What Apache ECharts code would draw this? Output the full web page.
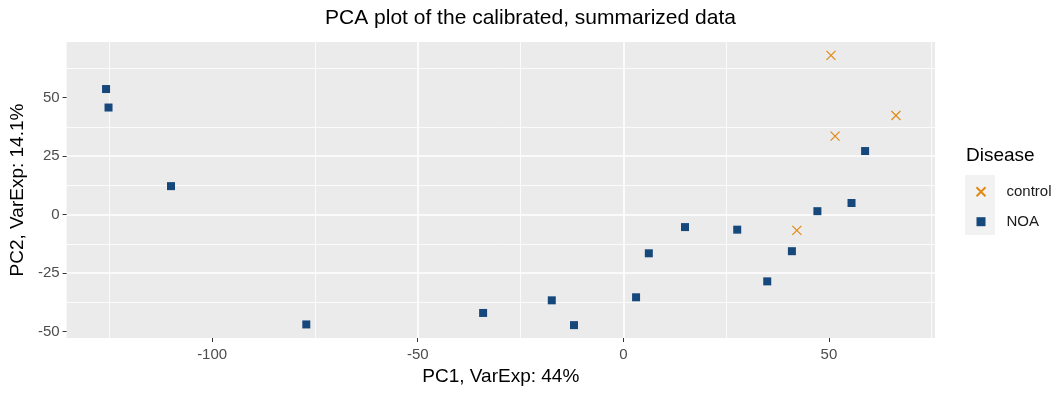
<!DOCTYPE html>
<html>
<head>
<meta charset="utf-8">
<script src="https://cdn.jsdelivr.net/npm/echarts@6/dist/echarts.min.js"></script>
<style>
html,body{margin:0;padding:0;background:#fff;}
#chart{width:1061px;height:394px;}
</style>
</head>
<body>
<div id="chart"></div>
<script>
// ---- data ----
const seriesNames = ['control', 'NOA'];
const controlX = [50.5, 51.5, 66.3, 42.2];
const controlY = [68.1, 33.6, 42.4, -6.7];
const noaX = [-125.8, -125.2, -110.0, -77.1, -34.1, -17.4, -12.0, 3.1, 6.2, 15.0, 27.7, 35.0, 41.0, 47.2, 55.5, 58.8];
const noaY = [53.7, 45.8, 12.2, -46.9, -42.0, -36.6, -47.2, -35.3, -16.5, -5.3, -6.4, -28.5, -15.6, 1.5, 5.0, 27.2];
const xTicks = [-100, -50, 0, 50];
const yTicks = [-50, -25, 0, 25, 50];
const xRange = [-135.4, 75.8];
const yRange = [-52.7, 73.8];

const colControl = '#E08A14';
const colNOA = '#16487C';
const FONT = 'Liberation Sans, Arial, sans-serif';

const pairs = (xs, ys) => xs.map((x, i) => [x, ys[i]]);

const chart = echarts.init(document.getElementById('chart'), null, {renderer: 'canvas'});
chart.setOption({
  animation: false,
  backgroundColor: '#ffffff',
  textStyle: {fontFamily: FONT},
  title: [
    {
      text: 'PCA plot of the calibrated, summarized data',
      left: 'center', top: 8, padding: [0, 64, 0, 0],
      textStyle: {fontFamily: FONT, fontSize: 21, fontWeight: 'normal', color: '#000'}
    },
    {
      text: 'Disease',
      left: 966, top: 146, padding: 0,
      textStyle: {fontFamily: FONT, fontSize: 19, fontWeight: 'normal', color: '#000'}
    }
  ],
  graphic: [
    {type: 'rect', left: 965, top: 175, shape: {width: 30, height: 60}, style: {fill: '#F2F2F2'}, z: -1}
  ],
  legend: {
    orient: 'vertical',
    left: 975.5, top: 176.7,
    padding: 0, itemGap: 0,
    itemWidth: 9, itemHeight: 9,
    data: seriesNames,
    textStyle: {fontFamily: FONT, fontSize: 15, color: '#1a1a1a', lineHeight: 30, padding: [0, 0, 0, 16]}
  },
  grid: {
    left: 65, right: 126, top: 42, bottom: 56,
    show: true, backgroundColor: '#EBEBEB', borderWidth: 0
  },
  xAxis: {
    type: 'value',
    min: xRange[0], max: xRange[1],
    minInterval: 50, maxInterval: 50,
    name: 'PC1, VarExp: 44%',
    nameLocation: 'middle', nameGap: 27,
    nameTextStyle: {fontFamily: FONT, fontSize: 19, color: '#000'},
    axisLine: {show: false, onZero: false},
    axisTick: {show: true, length: 4, lineStyle: {color: '#333', width: 1}, customValues: xTicks},
    axisLabel: {fontFamily: FONT, fontSize: 15, color: '#4D4D4D', margin: 9, customValues: xTicks},
    splitLine: {show: true, showMinLine: false, showMaxLine: false, lineStyle: {color: '#fff', width: 1.6}},
    minorTick: {show: false, splitNumber: 2},
    minorSplitLine: {show: true, lineStyle: {color: '#fff', width: 0.8}}
  },
  yAxis: {
    type: 'value',
    min: yRange[0], max: yRange[1],
    minInterval: 25, maxInterval: 25,
    name: 'PC2, VarExp: 14.1%',
    nameLocation: 'middle', nameGap: 37,
    nameTextStyle: {fontFamily: FONT, fontSize: 19, color: '#000'},
    axisLine: {show: false, onZero: false},
    axisTick: {show: true, length: 4, lineStyle: {color: '#333', width: 1}, customValues: yTicks},
    axisLabel: {fontFamily: FONT, fontSize: 15, color: '#4D4D4D', margin: 7, customValues: yTicks},
    splitLine: {show: true, showMinLine: false, showMaxLine: false, lineStyle: {color: '#fff', width: 1.6}},
    minorTick: {show: false, splitNumber: 2},
    minorSplitLine: {show: true, lineStyle: {color: '#fff', width: 0.8}}
  },
  series: [
    {
      name: seriesNames[0],
      type: 'scatter',
      symbol: 'path://M0,0L10,10M10,0L0,10',
      symbolSize: 9,
      itemStyle: {color: 'rgba(0,0,0,0)', borderColor: colControl, borderWidth: 1.2, opacity: 1},
      data: pairs(controlX, controlY)
    },
    {
      name: seriesNames[1],
      type: 'scatter',
      symbol: 'rect',
      symbolSize: 8,
      itemStyle: {color: colNOA, opacity: 1},
      data: pairs(noaX, noaY)
    }
  ]
});
</script>
</body>
</html>
